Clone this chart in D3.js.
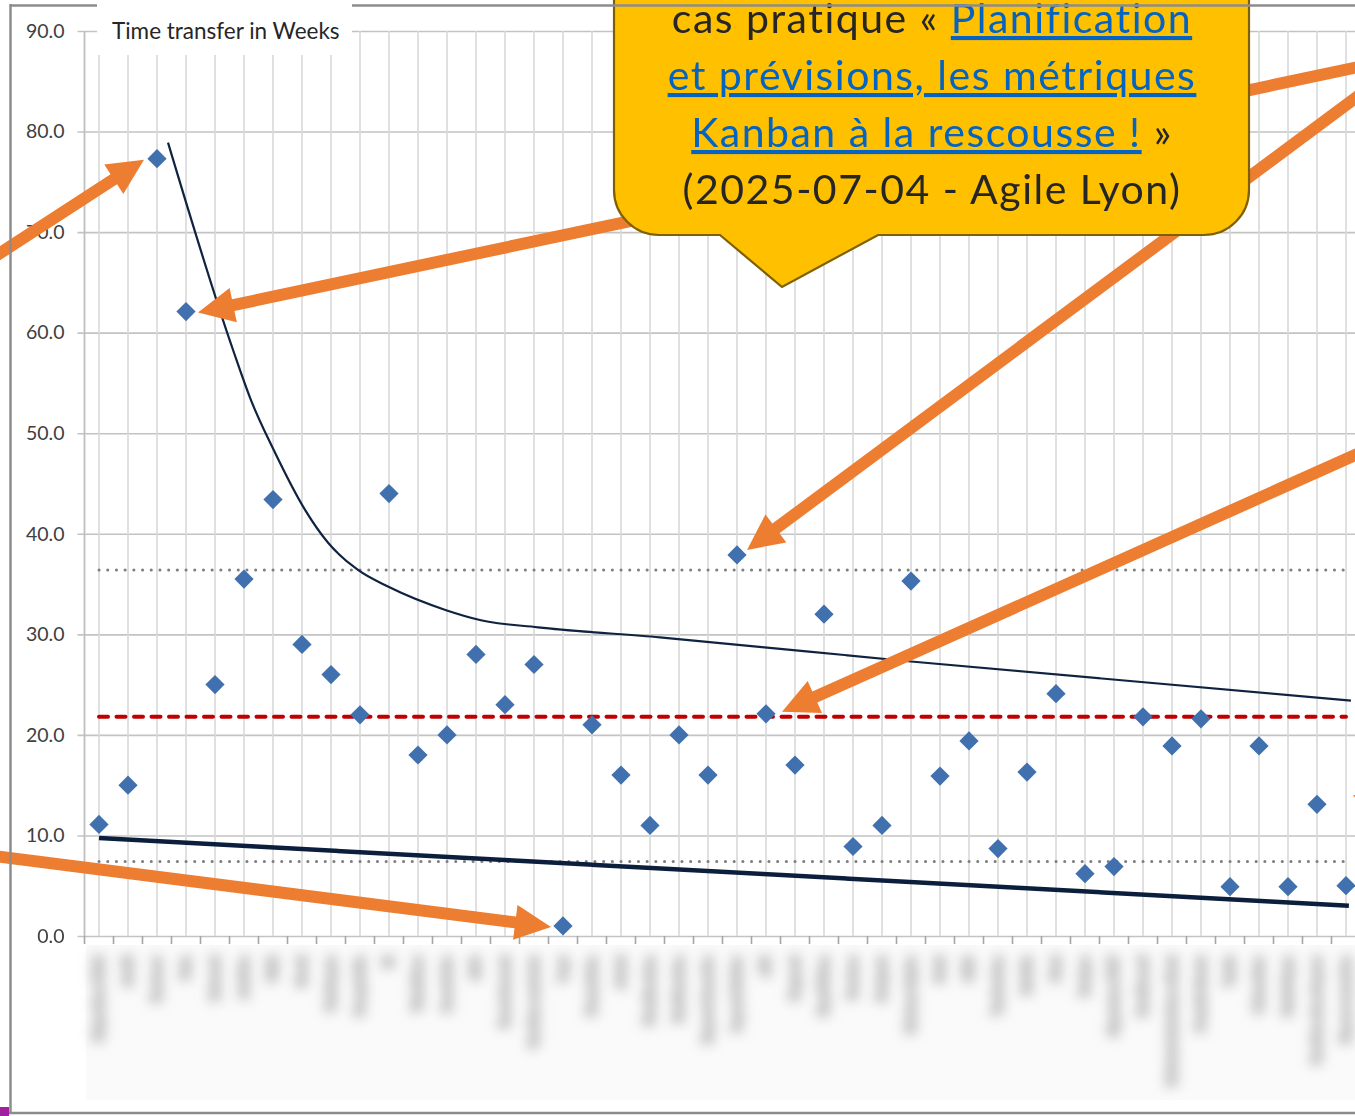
<!DOCTYPE html>
<html>
<head>
<meta charset="utf-8">
<script src="https://cdn.jsdelivr.net/npm/d3@7"></script>
<style>
  body { margin: 0; background: #fff; }
  svg { display: block; }
</style>
</head>
<body>
<svg id="chart"></svg>
<script>
const width = 1355;
const height = 1116;
const plot = {left: 84.5, right: 1360.5, top: 31, bottom: 936};

// category labels (unreadable in the source, blurred)
const categories = [
  "Migration CRM", "Audit", "Facturer", "Paie", "Intranet", "Archive", "Wiki", "Stock",
  "Catalogue", "Comptable", "BI", "Workflow", "Inventaire", "SSO", "Recrutement",
  "Gestion contrats", "Logs", "Formulaire", "Achat", "Planification", "Notification",
  "Export données", "Import fichier", "API", "Support", "Expédition", "Devises", "Budgets",
  "Moteur règles", "Suivi", "GED", "Traduction", "Mobile", "Chat", "Badges",
  "Signature PDF", "Dashboard", "Refonte interface client", "Portail clients", "Tarifs",
  "Calendrier", "Statistique", "Gestion des risques", "Espace membre"
];

// time transfer in weeks, one per category
const weeks = [
  11.1, 15.0, 77.3, 62.1, 25.0, 35.5, 43.4, 29.0, 26.0, 22.0, 44.0,
  18.0, 20.0, 28.0, 23.0, 27.0, 1.0, 21.0, 16.0, 11.0, 20.0, 16.0,
  37.9, 22.1, 17.0, 32.0, 8.9, 11.0, 35.3, 15.9, 19.4, 8.7, 16.3,
  24.1, 6.2, 6.9, 21.8, 18.9, 21.6, 4.9, 18.9, 4.9, 13.1, 5.0
];

const meanValue = 21.8;
const upperValue = 36.4;
const lowerValue = 7.4;

// thin trend curve: [category index, value]
const trendCurve = [
  [2.38, 78.9], [4.62, 58.3], [5.24, 53.3], [6.03, 48.3], [7.10, 42.4],
  [7.90, 39.1], [8.93, 36.4], [10.0, 34.7], [11.97, 32.4], [13.17, 31.4],
  [15.14, 30.7], [19.34, 29.7], [28.0, 27.3], [43.17, 23.4]
];

// thick linear trend: [category index, value]
const linearTrend = [[0, 9.75], [43.1, 3.0]];

const yTicks = [0, 10, 20, 30, 40, 50, 60, 70, 80, 90];

// arrows: data point targeted, tip offset, tail in screen px
const arrows = [
  {target: 2, dx: -13, dy: 1, from: [-100, 318]},
  {target: 3, dx: 12, dy: 1, from: [1420, 54]},
  {target: 22, dx: 10, dy: -5, from: [1420, 50]},
  {target: 23, dx: 16, dy: -2, from: [1420, 426]},
  {target: 16, dx: -12, dy: 1, from: [-100, 844]}
];

const calloutLines = [
  [{t: "cas pratique « ", link: false}, {t: "Planification", link: true}],
  [{t: "et prévisions, les métriques", link: true}],
  [{t: "Kanban à la rescousse !", link: true}, {t: " »", link: false}],
  [{t: "(2025-07-04 - Agile Lyon)", link: false}]
];

const svg = d3.select('#chart')
  .attr('width', width)
  .attr('height', height)
  .style('font-family', 'Lato, "Open Sans", sans-serif');

const x = d3.scaleBand().domain(categories).range([plot.left, plot.right]);
const xi = d3.scaleLinear().domain([-0.5, categories.length - 0.5]).range([plot.left, plot.right]);
const y = d3.scaleLinear().domain([0, 90]).range([plot.bottom, plot.top]);

svg.append('defs').append('filter')
  .attr('id', 'blur')
  .attr('filterUnits', 'userSpaceOnUse')
  .attr('x', 60).attr('y', 920).attr('width', 1320).attr('height', 200)
  .append('feGaussianBlur').attr('stdDeviation', 6);

// label band + blurred category labels
svg.append('rect')
  .attr('x', 86).attr('y', 945)
  .attr('width', width - 86).attr('height', 155)
  .attr('fill', '#fafafa');

svg.append('g')
  .attr('filter', 'url(#blur)')
  .selectAll('text')
  .data(categories)
  .enter().append('text')
    .attr('transform', d => `translate(${x(d) + x.bandwidth() / 2 + 4}, 956) rotate(-90)`)
    .attr('text-anchor', 'end')
    .style('font-size', '12.5px')
    .style('font-weight', 'bold')
    .attr('fill', '#bdbdbd')
    .attr('stroke', '#c6c6c6')
    .attr('stroke-width', 4)
    .text(d => d);

// horizontal gridlines + y labels
const yAxis = svg.append('g')
  .attr('transform', `translate(${plot.left}, 0)`)
  .call(d3.axisLeft(y)
    .tickValues(yTicks)
    .tickFormat(d3.format('.1f'))
    .tickSize(-(width - plot.left))
    .tickPadding(20));
yAxis.select('.domain').remove();
yAxis.selectAll('.tick line')
  .attr('x1', -7)
  .attr('stroke', '#c3c3c3')
  .attr('stroke-width', 1.6);
yAxis.selectAll('.tick text')
  .attr('fill', '#404040')
  .style('font-size', '19.5px')
  .style('font-family', 'Lato, sans-serif');

// vertical gridlines at category centres
svg.append('g')
  .selectAll('line')
  .data(categories)
  .enter().append('line')
    .attr('x1', d => x(d) + x.bandwidth() / 2)
    .attr('x2', d => x(d) + x.bandwidth() / 2)
    .attr('y1', plot.top)
    .attr('y2', plot.bottom)
    .attr('stroke', '#d9d9d9')
    .attr('stroke-width', 1.6);

// axis lines and category ticks
svg.append('line')
  .attr('x1', plot.left).attr('x2', plot.left)
  .attr('y1', plot.top).attr('y2', plot.bottom)
  .attr('stroke', '#bfbfbf').attr('stroke-width', 1.8);

svg.append('g')
  .selectAll('line')
  .data(categories)
  .enter().append('line')
    .attr('x1', d => x(d)).attr('x2', d => x(d))
    .attr('y1', plot.bottom).attr('y2', plot.bottom + 8)
    .attr('stroke', '#a6a6a6').attr('stroke-width', 1.6);

// title box
svg.append('rect')
  .attr('x', 97).attr('y', 0).attr('width', 255).attr('height', 55)
  .attr('fill', '#fff');
svg.append('text')
  .attr('x', 112).attr('y', 39)
  .attr('fill', '#262626')
  .style('font-size', '22.5px')
  .text('Time transfer in Weeks');

// mean and +/- deviation lines
const hLine = (v) => d3.line()([[xi(0), y(v)], [xi(categories.length - 1), y(v)]]);

svg.append('path')
  .attr('d', hLine(upperValue))
  .attr('stroke', '#7f7f7f').attr('stroke-width', 3)
  .attr('stroke-linecap', 'round').attr('stroke-dasharray', '0.1,8.6');
svg.append('path')
  .attr('d', hLine(lowerValue))
  .attr('stroke', '#7f7f7f').attr('stroke-width', 3)
  .attr('stroke-linecap', 'round').attr('stroke-dasharray', '0.1,8.6');
svg.append('path')
  .attr('d', hLine(meanValue))
  .attr('stroke', '#c00000').attr('stroke-width', 4)
  .attr('stroke-linecap', 'round').attr('stroke-dasharray', '9,8.5');

// trend lines
svg.append('path')
  .datum(trendCurve)
  .attr('d', d3.line().x(d => xi(d[0])).y(d => y(d[1])).curve(d3.curveMonotoneX))
  .attr('fill', 'none')
  .attr('stroke', '#0f2341')
  .attr('stroke-width', 2.2);

svg.append('path')
  .datum(linearTrend)
  .attr('d', d3.line().x(d => xi(d[0])).y(d => y(d[1])))
  .attr('fill', 'none')
  .attr('stroke', '#0b1f3c')
  .attr('stroke-width', 4.5);

// data points (diamonds)
svg.append('g')
  .selectAll('path')
  .data(weeks)
  .enter().append('path')
    .attr('d', d3.symbol(d3.symbolSquare, 185))
    .attr('transform', (d, i) => `translate(${x(categories[i]) + x.bandwidth() / 2}, ${y(d)}) rotate(45)`)
    .attr('fill', '#4170ae');

// orange arrows
function arrowPath(x1, y1, x2, y2) {
  const dx = x2 - x1, dy = y2 - y1, len = Math.hypot(dx, dy);
  const ux = dx / len, uy = dy / len, px = -uy, py = ux;
  const hw = 6, hl = 36, hh = 17.5;
  const bx = x2 - ux * hl, by = y2 - uy * hl;
  const pts = [
    [x1 + px * hw, y1 + py * hw], [bx + px * hw, by + py * hw], [bx + px * hh, by + py * hh],
    [x2, y2],
    [bx - px * hh, by - py * hh], [bx - px * hw, by - py * hw], [x1 - px * hw, y1 - py * hw]
  ];
  return 'M' + pts.map(p => p.join(',')).join('L') + 'Z';
}

svg.append('g')
  .selectAll('path')
  .data(arrows)
  .enter().append('path')
    .attr('d', a => {
      const tx = x(categories[a.target]) + x.bandwidth() / 2 + a.dx;
      const ty = y(weeks[a.target]) + a.dy;
      return arrowPath(a.from[0], a.from[1], tx, ty);
    })
    .attr('fill', '#ed7d31');

// small arrow fragment at right edge
svg.append('path')
  .attr('d', arrowPath(1500, 870, 1353, 795))
  .attr('fill', '#ed7d31');

// callout
const bx0 = 614, bx1 = 1249, byTop = -80, byBot = 235, r = 45;
const tipX = 782, tipY = 287, baseL = 720, baseR = 878;
const callout = d3.path();
callout.moveTo(bx0 + r, byTop);
callout.lineTo(bx1 - r, byTop);
callout.arcTo(bx1, byTop, bx1, byTop + r, r);
callout.lineTo(bx1, byBot - r);
callout.arcTo(bx1, byBot, bx1 - r, byBot, r);
callout.lineTo(baseR, byBot);
callout.lineTo(tipX, tipY);
callout.lineTo(baseL, byBot);
callout.lineTo(bx0 + r, byBot);
callout.arcTo(bx0, byBot, bx0, byBot - r, r);
callout.lineTo(bx0, byTop + r);
callout.arcTo(bx0, byTop, bx0 + r, byTop, r);
callout.closePath();

svg.append('path')
  .attr('d', callout.toString())
  .attr('fill', '#ffc000')
  .attr('stroke', '#7f6000')
  .attr('stroke-width', 2.2);

const ct = svg.append('g');
calloutLines.forEach((line, li) => {
  const t = ct.append('text')
    .attr('x', 932)
    .attr('y', 33 + li * 57)
    .attr('text-anchor', 'middle')
    .style('font-size', '41px')
    .style('letter-spacing', '1.5px');
  line.forEach(seg => {
    t.append('tspan')
      .attr('fill', seg.link ? '#0563c1' : '#262626')
      .style('text-decoration', seg.link ? 'underline' : 'none')
      .text(seg.t);
  });
});

// frame
svg.append('line').attr('x1', 10).attr('x2', 97).attr('y1', 5.5).attr('y2', 5.5)
  .attr('stroke', '#8c8c8c').attr('stroke-width', 2.5);
svg.append('line').attr('x1', 352).attr('x2', width).attr('y1', 5.5).attr('y2', 5.5)
  .attr('stroke', '#8c8c8c').attr('stroke-width', 2.5);
svg.append('line').attr('x1', 10.5).attr('x2', 10.5).attr('y1', 4).attr('y2', 1114)
  .attr('stroke', '#8c8c8c').attr('stroke-width', 2.5);
svg.append('line').attr('x1', 9).attr('x2', width).attr('y1', 1113).attr('y2', 1113)
  .attr('stroke', '#8c8c8c').attr('stroke-width', 2.5);
svg.append('rect').attr('x', 0).attr('y', 1107).attr('width', 9).attr('height', 9)
  .attr('fill', '#a020a0');
</script>
</body>
</html>
